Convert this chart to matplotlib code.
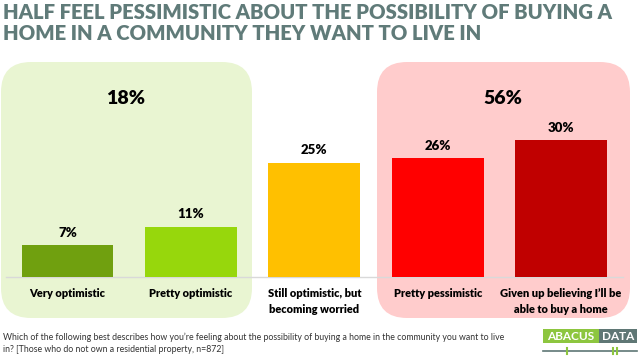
import matplotlib
matplotlib.use("Agg")
import matplotlib.pyplot as plt
from matplotlib import font_manager
from matplotlib.patches import FancyBboxPatch, Rectangle
from matplotlib.transforms import IdentityTransform
from matplotlib.lines import Line2D

categories = ["Very optimistic", "Pretty optimistic", "Still optimistic, but\nbecoming worried",
              "Pretty pessimistic", "Given up believing I\u2019ll be\nable to buy a home"]
values = [7, 11, 25, 26, 30]
bar_colors = ["#70A00F", "#97D70C", "#FFC000", "#FF0000", "#C00000"]
group_labels = ["18%", "56%"]
title = "HALF FEEL PESSIMISTIC ABOUT THE POSSIBILITY OF BUYING A\nHOME IN A COMMUNITY THEY WANT TO LIVE IN"
footnote = ("Which of the following best describes how you\u2019re feeling about the possibility of buying a home in the community you want to live\n"
            "in? [Those who do not own a residential property, n=872]")

W, H = 640, 360
fig = plt.figure(figsize=(6.4, 3.6), dpi=100)
FONT = "Lato"

# pick a heavy font if one is installed
HEAVY_FAM, HEAVY_W = "Lato", "bold"
avail = {}
for f in font_manager.fontManager.ttflist:
    w = f.weight if isinstance(f.weight, int) else 700
    avail.setdefault(f.name, set()).add(w)
for fam in ["Lato", "Roboto", "Inter", "Open Sans", "Noto Sans"]:
    ws = [w for w in avail.get(fam, ()) if w >= 800]
    if ws:
        HEAVY_FAM, HEAVY_W = fam, min(ws)
        break

# rounded group boxes (pixel coordinates)
ident = IdentityTransform()
for (x0, x1, col) in [(1, 252, "#E9F5D2"), (377, 630, "#FFCCCC")]:
    y0, y1 = H - 318, H - 62
    p = FancyBboxPatch((x0, y0), x1 - x0, y1 - y0,
                       boxstyle="round,pad=0,rounding_size=30",
                       transform=ident, facecolor=col, edgecolor="none", zorder=0)
    fig.patches.append(p)

ax = fig.add_axes([5.8 / W, 83 / H, 617 / W, 183 / H])
ax.patch.set_visible(False)
ax.set_zorder(2)
x = list(range(len(values)))
bars = ax.bar(x, values, width=0.745, color=bar_colors, zorder=3)
ax.set_xlim(-0.5, 4.5)
ax.set_ylim(0, 40)
for s in ["top", "right", "left"]:
    ax.spines[s].set_visible(False)
ax.spines["bottom"].set_color("#D9D9D9")
ax.spines["bottom"].set_linewidth(1)
ax.set_yticks([])
ax.set_xticks(x)
ax.set_xticklabels(categories, fontsize=7.9, fontweight=HEAVY_W, family=HEAVY_FAM, linespacing=1.55)
ax.tick_params(axis="x", length=0, pad=8)

for xi, v in zip(x, values):
    ax.annotate(f"{v}%", (xi, v), xytext=(0, 4.5), textcoords="offset points",
                ha="center", va="bottom", fontsize=9.5, fontweight=HEAVY_W, family=HEAVY_FAM)

# group totals
for (gx, lab) in zip([126, 503], group_labels):
    fig.text(gx / W, 1 - 98 / H, lab, ha="center", va="center", fontsize=14,
             fontweight=HEAVY_W, family=HEAVY_FAM)

# title, fitted to width
t = fig.text(3 / W, 1 - 3 / H, title, ha="left", va="top", fontsize=14,
             fontweight="heavy", family=FONT, color="#607B79", linespacing=1.15)
fig.canvas.draw()
r = fig.canvas.get_renderer()
bb = t.get_window_extent(r)
t.set_fontsize(14 * 614 / bb.width)

# footnote
fig.text(3 / W, 1 - 333 / H, footnote, ha="left", va="top", fontsize=6.3,
         family=FONT, color="#333333", linespacing=1.35)

# logo
fig.patches.append(Rectangle((543, H - 343), 56, 14, transform=ident, facecolor="#8DC63F", edgecolor="none"))
fig.patches.append(Rectangle((599, H - 343), 38, 14, transform=ident, facecolor="#5F7775", edgecolor="none"))
fig.text(571 / W, 1 - 336 / H, "ABACUS", ha="center", va="center", color="white",
         fontsize=8.5, fontweight="bold", family=FONT)
fig.text(618 / W, 1 - 336 / H, "DATA", ha="center", va="center", color="white",
         fontsize=8.5, fontweight="bold", family=FONT)
fig.lines.append(Line2D([543, 637], [H - 351, H - 351], transform=ident, color="#5F7775", lw=1.2))
for lx in [567, 613, 617]:
    fig.lines.append(Line2D([lx, lx], [H - 348, H - 354], transform=ident, color="#8DC63F", lw=1.5))

fig.savefig("out.png", dpi=100)
